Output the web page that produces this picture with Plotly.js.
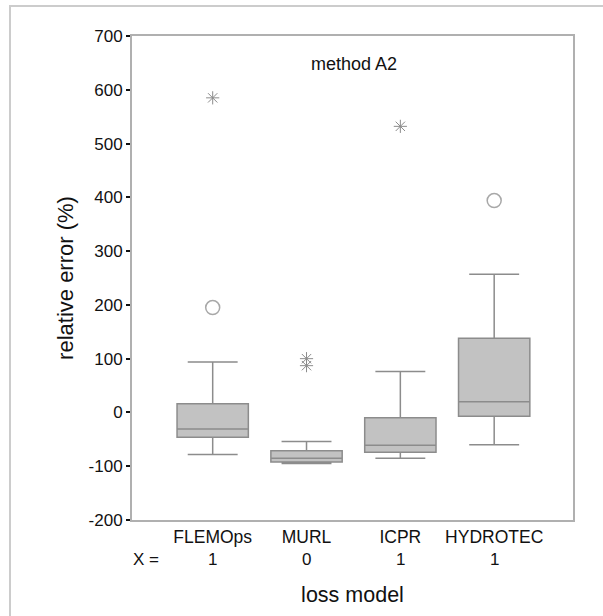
<!DOCTYPE html>
<html>
<head>
<meta charset="utf-8">
<script src="https://cdn.plot.ly/plotly-3.0.1.min.js"></script>
<style>html,body{margin:0;padding:0;background:#fff;}#chart{width:603px;height:616px;}</style>
</head>
<body>
<div id="chart"></div>
<script>
var models = ["FLEMOps", "MURL", "ICPR", "HYDROTEC"];
var xCounts = ["1", "0", "1", "1"];
var lowerWhisker = [-78, -95, -85, -60];
var q1 = [-46, -92, -74, -7];
var median = [-31, -85, -61, 20];
var q3 = [16, -71, -10, 138];
var upperWhisker = [94, -54, 76, 257];
var circleOutlierModel = ["FLEMOps", "HYDROTEC"];
var circleOutlierValue = [195, 394];
var starOutlierModel = ["FLEMOps", "MURL", "MURL", "ICPR"];
var starOutlierValue = [585, 100, 87, 532];
var yTicks = [-200, -100, 0, 100, 200, 300, 400, 500, 600, 700];
var yTickText = ["-200", "-100", "0", "100", "200", "300", "400", "500", "600", "700"];

var pos = models.map(function(m, i){ return i + 1; });
function posOf(name){ return models.indexOf(name) + 1; }

var FONT = "Liberation Sans, Arial, sans-serif";

var traces = [
  {
    type: "box",
    x: pos,
    q1: q1, median: median, q3: q3,
    lowerfence: lowerWhisker, upperfence: upperWhisker,
    width: 0.76,
    whiskerwidth: 0.7,
    fillcolor: "#c2c2c2",
    line: {color: "#8c8c8c", width: 1.5},
    boxpoints: false,
    hoverinfo: "skip",
    showlegend: false
  },
  {
    type: "scatter", mode: "markers",
    x: circleOutlierModel.map(posOf), y: circleOutlierValue,
    marker: {symbol: "circle-open", size: 14, color: "#a8a8a8", line: {width: 1.5, color: "#a8a8a8"}},
    hoverinfo: "skip", showlegend: false
  },
  {
    type: "scatter", mode: "markers",
    x: starOutlierModel.map(posOf), y: starOutlierValue,
    marker: {symbol: "asterisk-open", size: 11, color: "#8c8c8c", line: {width: 1, color: "#8c8c8c"}},
    hoverinfo: "skip", showlegend: false
  }
];

var annotations = [
  {text: "method A2", xref: "paper", yref: "paper", x: (354 - 132) / 441, y: 1 - (64 - 36) / 484.5,
   showarrow: false, font: {family: FONT, size: 18, color: "#111"}, xanchor: "center", yanchor: "middle"},
  {text: "X =", xref: "paper", yref: "paper", x: (146 - 132) / 441, y: -(560 - 520.5) / 484.5,
   showarrow: false, font: {family: FONT, size: 17, color: "#111"}, xanchor: "center", yanchor: "middle"}
];
xCounts.forEach(function(v, i){
  annotations.push({text: v, xref: "x", yref: "paper", x: pos[i], y: -(560 - 520.5) / 484.5,
    showarrow: false, font: {family: FONT, size: 17, color: "#111"}, xanchor: "center", yanchor: "middle"});
});

var layout = {
  width: 603, height: 616,
  margin: {l: 132, r: 30, t: 36, b: 95.5, pad: 0},
  paper_bgcolor: "#fff", plot_bgcolor: "#fff",
  font: {family: FONT, color: "#111"},
  xaxis: {
    range: [0.14, 4.84],
    tickvals: pos, ticktext: models,
    ticks: "", showgrid: false, zeroline: false,
    showline: true, linecolor: "#b0b0b0", linewidth: 2, mirror: true,
    tickfont: {family: FONT, size: 17.5, color: "#111"},
    title: {text: "loss model", font: {family: FONT, size: 21.5, color: "#111"}, standoff: 41}
  },
  yaxis: {
    range: [-200, 700],
    tickvals: yTicks, ticktext: yTickText,
    ticks: "outside", ticklen: 4, tickwidth: 2, tickcolor: "#111",
    showgrid: false, zeroline: false,
    showline: true, linecolor: "#b0b0b0", linewidth: 2, mirror: true,
    tickfont: {family: FONT, size: 17, color: "#111"},
    title: {text: "relative error (%)", font: {family: FONT, size: 22, color: "#111"}, standoff: 9}
  },
  shapes: [
    {type: "rect", xref: "paper", yref: "paper",
     x0: (10 - 132) / 441, x1: 1.3, y0: -0.4, y1: 1 + (36 - 6) / 484.5,
     line: {color: "#cccccc", width: 2}, fillcolor: "rgba(0,0,0,0)", layer: "below"}
  ],
  annotations: annotations,
  showlegend: false
};

Plotly.newPlot("chart", traces, layout, {staticPlot: true, displayModeBar: false});
</script>
</body>
</html>
